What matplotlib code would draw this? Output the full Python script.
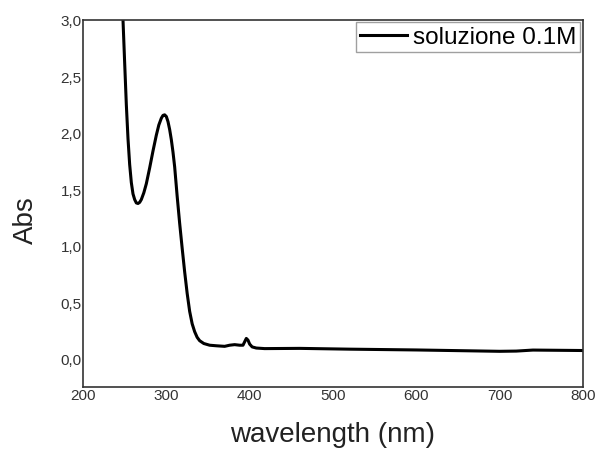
import matplotlib.pyplot as plt
from matplotlib.ticker import FuncFormatter

plt.rcParams['font.family'] = ['Liberation Sans', 'DejaVu Sans']

# UV-Vis spectrum
wavelength = [246, 248, 250, 252, 254, 256, 258, 260, 262, 264, 266, 268, 270, 273,
              276, 280, 284, 288, 291, 294, 296, 298, 300, 302, 304, 306, 308, 310,
              313, 316, 319, 322, 325, 328, 331, 334, 337, 340, 345, 352, 360, 370,
              376, 382, 388, 392, 394, 396, 398, 400, 403, 408, 418, 460, 520, 600,
              650, 700, 720, 740, 770, 800]
absorbance = [3.20, 3.00, 2.62, 2.25, 1.95, 1.72, 1.56, 1.46, 1.41, 1.38, 1.375, 1.385,
              1.41, 1.47, 1.55, 1.69, 1.84, 1.98, 2.07, 2.13, 2.155, 2.16, 2.145, 2.10,
              2.03, 1.94, 1.83, 1.70, 1.44, 1.20, 0.98, 0.77, 0.58, 0.42, 0.31, 0.24,
              0.19, 0.16, 0.135, 0.12, 0.115, 0.11, 0.12, 0.125, 0.12, 0.12, 0.15,
              0.18, 0.165, 0.13, 0.105, 0.095, 0.09, 0.092, 0.085, 0.078, 0.072,
              0.066, 0.068, 0.077, 0.075, 0.073]

fig = plt.figure(figsize=(5.98, 4.52), dpi=100)
ax = fig.add_axes([0.1388, 0.1416, 0.836, 0.812])
ax.plot(wavelength, absorbance, color='black', lw=2.2, label='soluzione 0.1M',
        solid_joinstyle='round')

ax.set_xlim(200, 800)
ax.set_ylim(-0.25, 3.0)
ax.set_xticks([200, 300, 400, 500, 600, 700, 800])
ax.set_yticks([0.0, 0.5, 1.0, 1.5, 2.0, 2.5, 3.0])
ax.yaxis.set_major_formatter(FuncFormatter(lambda v, p: f'{v:.1f}'.replace('.', ',')))
ax.tick_params(length=0, labelsize=11, colors='#333333', pad=1)
for s in ax.spines.values():
    s.set_color('#333333')
    s.set_linewidth(1.2)

ax.set_xlabel('wavelength (nm)', fontsize=20, color='#222222')
ax.xaxis.set_label_coords(0.5, -0.093)
ax.set_ylabel('Abs', fontsize=20, color='#222222')
ax.yaxis.set_label_coords(-0.088, 0.458)

leg = ax.legend(loc='upper right', fontsize=17.5, frameon=True, fancybox=False,
                borderaxespad=0.1, handlelength=1.95, handletextpad=0.25,
                borderpad=0.15)
leg.get_frame().set_edgecolor('#888888')
leg.get_frame().set_linewidth(1)

plt.savefig('out.png', dpi=100)
